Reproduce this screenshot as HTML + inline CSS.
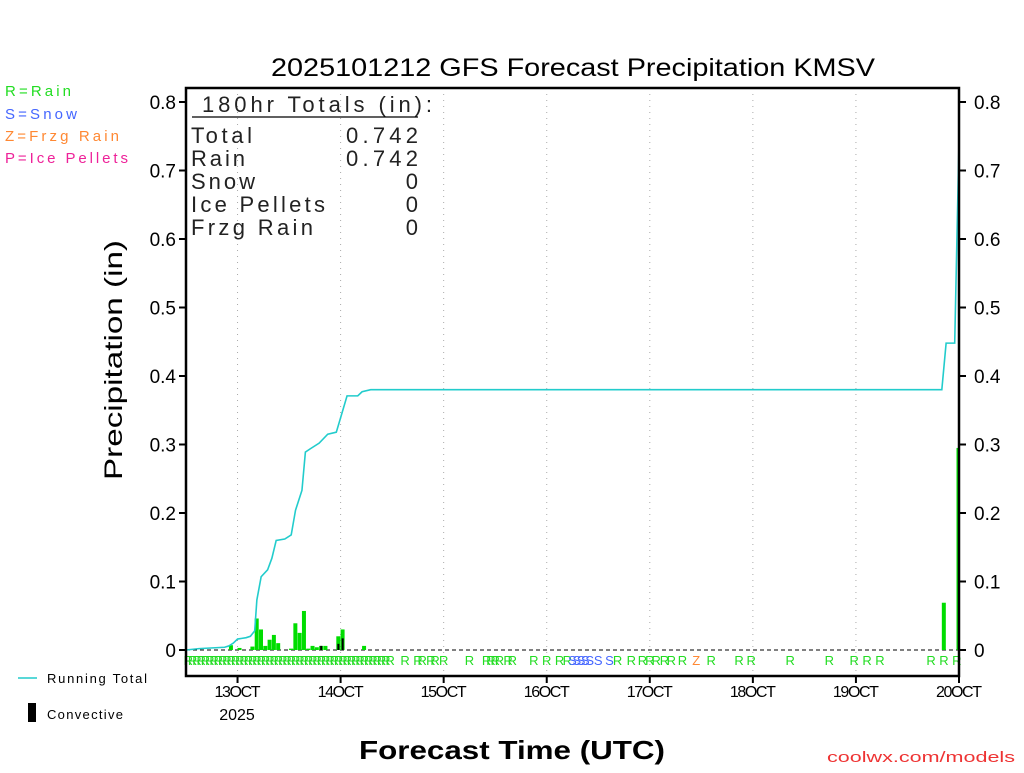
<!DOCTYPE html>
<html><head><meta charset="utf-8"><style>
body{margin:0;background:#fff}
svg text{font-family:"Liberation Sans",sans-serif}
</style></head><body>
<svg id="c" width="1024" height="768" xmlns="http://www.w3.org/2000/svg"></svg>
<script>
const yTicks=[0,0.1,0.2,0.3,0.4,0.5,0.6,0.7,0.8];
const yTickLabels=["0","0.1","0.2","0.3","0.4","0.5","0.6","0.7","0.8"];
const dayHours=[12,36,60,84,108,132,156,180];
const dayLabels=["13OCT","14OCT","15OCT","16OCT","17OCT","18OCT","19OCT","20OCT"];
const barHours=[11,13,16,17,18,19,20,21,22,25,26,27,28,29,30,31,32,33,36,37,42,177,180];
const barValues=[0.007,0.003,0.005,0.046,0.030,0.006,0.015,0.022,0.010,0.002,0.039,0.025,0.057,0.002,0.006,0.004,0.006,0.006,0.020,0.030,0.006,0.069,0.295];
const convHours=[32,36,37];
const convValues=[0.006,0.009,0.017];
const totalHours=[0,3,9,10,11,12,13,14,15,16,16.5,17.5,19,20,21,23,24.5,25.5,27,27.8,29,31,33,35,36,37.5,40,41,43,176,177,179,180];
const totalValues=[0,0.002,0.004,0.006,0.010,0.016,0.017,0.018,0.020,0.028,0.073,0.107,0.117,0.134,0.160,0.162,0.168,0.204,0.233,0.289,0.294,0.302,0.315,0.318,0.339,0.371,0.371,0.377,0.380,0.380,0.448,0.448,0.742];
const typeHours=[51,54,55,57,58,60,66,70,71,72,73,75,76,81,84,87,88.8,90,91,92,93,94,96,98.6,100.5,103.7,106.3,108,109.5,111.4,113,115.6,118.8,122.3,128.8,131.6,140.7,149.8,155.6,158.6,161.6,173.5,176.5,179.5];
const typeCodes=["R","R","R","R","R","R","R","R","R","R","R","R","R","R","R","R","R","S","S","S","S","S","S","S","R","R","R","R","R","R","R","R","Z","R","R","R","R","R","R","R","R","R","R","R"];

const L=186,R=959,T=88,B=676;
const X=h=>L+h*(R-L)/180;
const Y=v=>650-v*685;
const svg=document.getElementById('c');
const NS="http://www.w3.org/2000/svg";
function mk(tag,attrs,txt){const e=document.createElementNS(NS,tag);for(const k in attrs)e.setAttribute(k,attrs[k]);if(txt!==undefined)e.textContent=txt;svg.appendChild(e);return e;}
const col={R:"#22dd22",S:"#4466ff",Z:"#ff8833"};

dayHours.forEach((h,i)=>{
  if(i<dayHours.length-1){
  let g=mk('line',{x1:X(h),x2:X(h),y1:T,y2:B,stroke:'#aaa','stroke-dasharray':'1,5'});
  
  }
  let t=mk('line',{x1:X(h),x2:X(h),y1:B,y2:B+7,stroke:'#000','stroke-width':2});
  
  
  let lb=mk('text',{x:X(h),y:697,'font-size':16,'text-anchor':'middle',textLength:46},dayLabels[i]);
  
  
});
yTicks.forEach((v,i)=>{
  let a=mk('line',{x1:L-7,x2:L,y1:Y(v),y2:Y(v),stroke:'#000','stroke-width':2});
  
  
  let b=mk('line',{x1:R,x2:R+7,y1:Y(v),y2:Y(v),stroke:'#000','stroke-width':2});
  
  
  let t1=mk('text',{x:176,y:Y(v)+7,'font-size':19,'text-anchor':'end'},yTickLabels[i]);
  
  
  let t2=mk('text',{x:974,y:Y(v)+7,'font-size':19},yTickLabels[i]);
  
  
});
let z=mk('line',{x1:L,x2:R,y1:Y(0),y2:Y(0),stroke:'#000','stroke-dasharray':'4,3'});


barHours.forEach((h,i)=>{
  const last=(h>=180);
  const x0=last?X(h)-2.5:X(h-1);
  const w=last?2:X(h)-X(h-1)-0.3;
  let r=mk('rect',{x:x0,y:Y(barValues[i]),width:w,height:Y(0)-Y(barValues[i]),fill:'#00dd00'});
  
  
});
convHours.forEach((h,i)=>{
  let r=mk('rect',{x:X(h-0.75),y:Y(convValues[i]),width:2,height:Y(0)-Y(convValues[i]),fill:'#000'});
  
  
});
let pl=mk('polyline',{points:totalHours.map((h,i)=>X(h)+','+Y(totalValues[i])).join(' '),fill:'none',stroke:'#22cccc','stroke-width':1.6});


for(let h=1;h<=48;h++){
  let t=mk('text',{x:X(h)-2,y:665,'font-size':13,fill:col.R,'text-anchor':'middle'},'R');
  
  
}
typeHours.forEach((h,i)=>{
  let t=mk('text',{x:X(h),y:665,'font-size':13,fill:col[typeCodes[i]],'text-anchor':'middle'},typeCodes[i]);
  
  
});
let fr=mk('rect',{x:L,y:T,width:R-L,height:B-T,fill:'none',stroke:'#000','stroke-width':2.5});


</script>
<svg width="1024" height="768" style="position:absolute;left:0;top:0" xmlns="http://www.w3.org/2000/svg">
<text x="271" y="76" font-size="25" textLength="604" lengthAdjust="spacingAndGlyphs" font-family="Liberation Sans">2025101212 GFS Forecast Precipitation KMSV</text>
<text transform="translate(122,360) rotate(-90)" font-size="25" text-anchor="middle" textLength="240" lengthAdjust="spacingAndGlyphs" font-family="Liberation Sans">Precipitation (in)</text>
<text x="359" y="759" font-size="26" textLength="306" lengthAdjust="spacingAndGlyphs" font-family="Liberation Sans" font-weight="bold">Forecast Time (UTC)</text>
<text x="237" y="720" font-size="16" text-anchor="middle" font-family="Liberation Sans">2025</text>
<text x="827" y="762" font-size="15" textLength="188" lengthAdjust="spacingAndGlyphs" fill="#ee3333" font-family="Liberation Sans">coolwx.com/models</text>
<g font-size="15" font-family="Liberation Sans">
<text x="5" y="96" fill="#22dd22" textLength="66">R=Rain</text>
<text x="5" y="119" fill="#4466ff" textLength="72">S=Snow</text>
<text x="5" y="141" fill="#ff8833" textLength="114">Z=Frzg Rain</text>
<text x="5" y="163" fill="#ee2299" textLength="123">P=Ice Pellets</text>
</g>
<line x1="18" x2="37" y1="678" y2="678" stroke="#22cccc" stroke-width="1.5"/>
<text x="47" y="683" font-size="13" textLength="100" font-family="Liberation Sans">Running Total</text>
<rect x="28" y="703" width="8" height="19" fill="#000"/>
<text x="47" y="719" font-size="13" textLength="76" font-family="Liberation Sans">Convective</text>
<g font-family="Liberation Sans" font-size="22" fill="#222">
<text x="202" y="112" textLength="230">180hr Totals (in):</text>
<line x1="192" x2="418" y1="117" y2="117" stroke="#000" stroke-width="1.2"/>
<text x="191" y="143" textLength="61">Total</text><text x="346" y="143" textLength="72">0.742</text>
<text x="191" y="166" textLength="54">Rain</text><text x="346" y="166" textLength="72">0.742</text>
<text x="191" y="189" textLength="64">Snow</text><text x="418" y="189" text-anchor="end">0</text>
<text x="191" y="212" textLength="134">Ice Pellets</text><text x="418" y="212" text-anchor="end">0</text>
<text x="191" y="235" textLength="122">Frzg Rain</text><text x="418" y="235" text-anchor="end">0</text>
</g>
</svg>
</body></html>
